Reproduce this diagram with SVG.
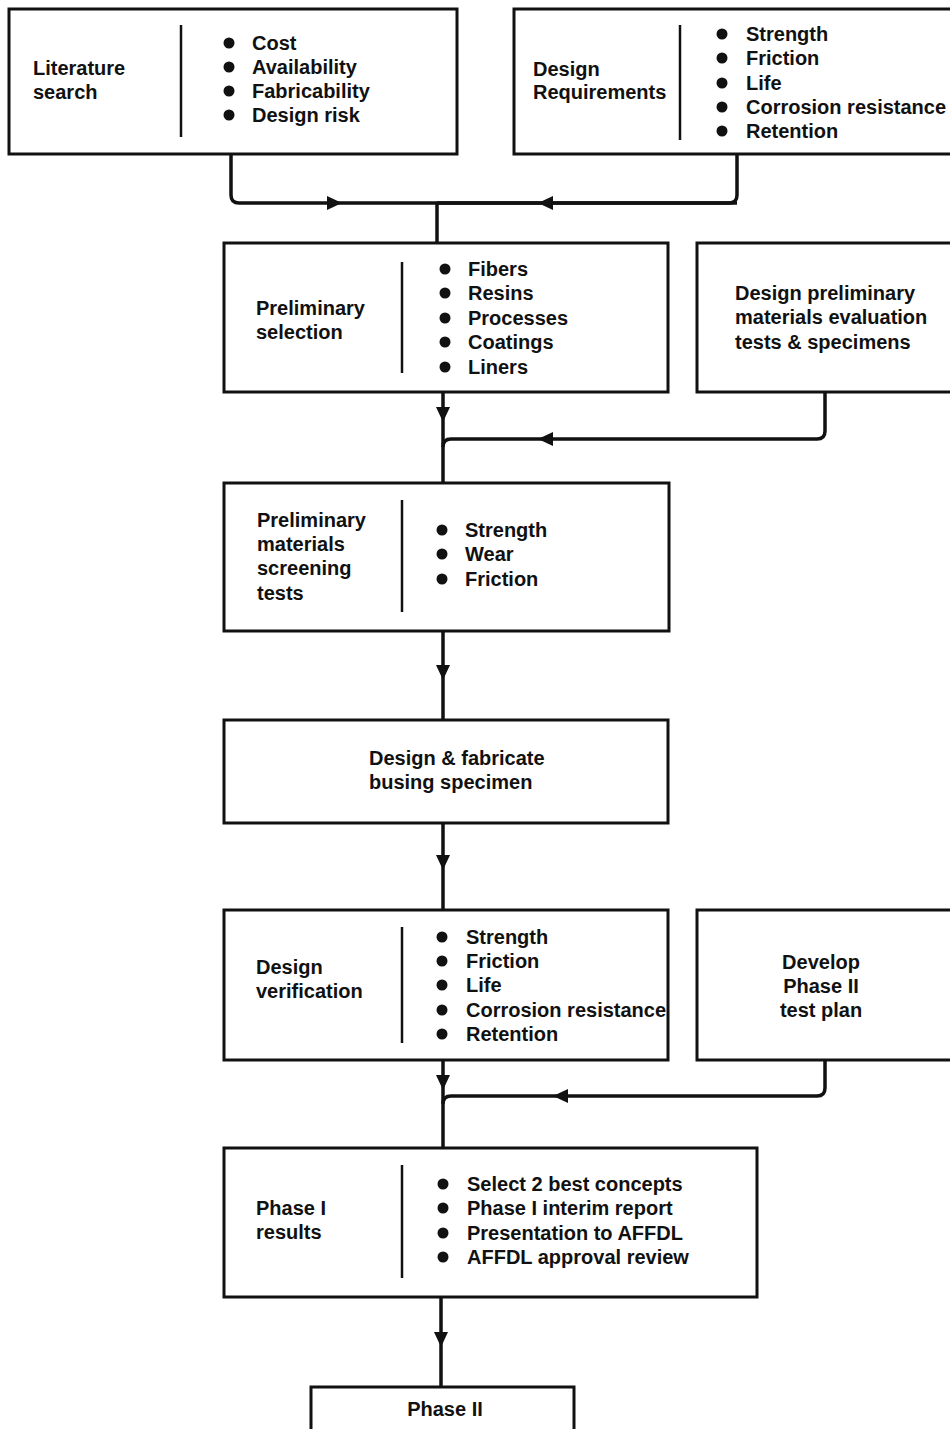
<svg xmlns="http://www.w3.org/2000/svg" width="950" height="1429" viewBox="0 0 950 1429">
<style>
.box{fill:none;stroke:#111;stroke-width:3}
.div{stroke:#111;stroke-width:2.5}
.ln{fill:none;stroke:#111;stroke-width:3.5;stroke-linejoin:round}
text{font-family:"Liberation Sans",Arial,sans-serif;font-weight:bold;font-size:20px;fill:#111}
</style>
<defs>
<path id="ah" d="M-8,-7 L7,0 L-8,7 Z" fill="#111"/>
<circle id="dot" r="5.5" fill="#111"/>
</defs>
<rect width="950" height="1429" fill="#fff"/>

<g id="connectors">
<path class="ln" d="M231,154 V195 Q231,203 239,203 H737"/>
<path class="ln" d="M737,154 V195 Q737,203 729,203 H437"/>
<path class="ln" d="M437,203 V243"/>
<use href="#ah" transform="translate(335,203)"/>
<use href="#ah" transform="translate(545,203) rotate(180)"/>

<path class="ln" d="M443,392 V483"/>
<path class="ln" d="M825,392 V431 Q825,439 817,439 H451 Q443,439 443,447"/>
<use href="#ah" transform="translate(443,415) rotate(90)"/>
<use href="#ah" transform="translate(545,439) rotate(180)"/>

<path class="ln" d="M443,631 V720"/>
<use href="#ah" transform="translate(443,673) rotate(90)"/>

<path class="ln" d="M443,823 V910"/>
<use href="#ah" transform="translate(443,863) rotate(90)"/>

<path class="ln" d="M443,1060 V1148"/>
<path class="ln" d="M825,1060 V1088 Q825,1096 817,1096 H451 Q443,1096 443,1104"/>
<use href="#ah" transform="translate(443,1083) rotate(90)"/>
<use href="#ah" transform="translate(560,1096) rotate(180)"/>

<path class="ln" d="M441,1297 V1387"/>
<use href="#ah" transform="translate(441,1340) rotate(90)"/>
</g>

<g id="literature-search">
<rect class="box" x="9" y="9" width="448" height="145"/>
<line class="div" x1="181" y1="25" x2="181" y2="137"/>
<text x="33" y="75">Literature</text>
<text x="33" y="99">search</text>
<use href="#dot" x="229" y="43"/><text x="252" y="50">Cost</text>
<use href="#dot" x="229" y="67"/><text x="252" y="74">Availability</text>
<use href="#dot" x="229" y="91"/><text x="252" y="98">Fabricability</text>
<use href="#dot" x="229" y="115"/><text x="252" y="122">Design risk</text>
</g>

<g id="design-requirements">
<rect class="box" x="514" y="9" width="450" height="145"/>
<line class="div" x1="680" y1="25" x2="680" y2="140"/>
<text x="533" y="76">Design</text>
<text x="533" y="99">Requirements</text>
<use href="#dot" x="722" y="34"/><text x="746" y="41">Strength</text>
<use href="#dot" x="722" y="58"/><text x="746" y="65">Friction</text>
<use href="#dot" x="722" y="83"/><text x="746" y="90">Life</text>
<use href="#dot" x="722" y="107"/><text x="746" y="114">Corrosion resistance</text>
<use href="#dot" x="722" y="131"/><text x="746" y="138">Retention</text>
</g>

<g id="preliminary-selection">
<rect class="box" x="224" y="243" width="444" height="149"/>
<line class="div" x1="402" y1="262" x2="402" y2="373"/>
<text x="256" y="315">Preliminary</text>
<text x="256" y="339">selection</text>
<use href="#dot" x="445" y="269"/><text x="468" y="276">Fibers</text>
<use href="#dot" x="445" y="293"/><text x="468" y="300">Resins</text>
<use href="#dot" x="445" y="318"/><text x="468" y="325">Processes</text>
<use href="#dot" x="445" y="342"/><text x="468" y="349">Coatings</text>
<use href="#dot" x="445" y="367"/><text x="468" y="374">Liners</text>
</g>

<g id="design-preliminary-tests">
<rect class="box" x="697" y="243" width="267" height="149"/>
<text x="735" y="300">Design preliminary</text>
<text x="735" y="324">materials evaluation</text>
<text x="735" y="349">tests &amp; specimens</text>
</g>

<g id="screening-tests">
<rect class="box" x="224" y="483" width="445" height="148"/>
<line class="div" x1="402" y1="500" x2="402" y2="612"/>
<text x="257" y="527">Preliminary</text>
<text x="257" y="551">materials</text>
<text x="257" y="575">screening</text>
<text x="257" y="600">tests</text>
<use href="#dot" x="442" y="530"/><text x="465" y="537">Strength</text>
<use href="#dot" x="442" y="554"/><text x="465" y="561">Wear</text>
<use href="#dot" x="442" y="579"/><text x="465" y="586">Friction</text>
</g>

<g id="design-fabricate">
<rect class="box" x="224" y="720" width="444" height="103"/>
<text x="369" y="765">Design &amp; fabricate</text>
<text x="369" y="789">busing specimen</text>
</g>

<g id="design-verification">
<rect class="box" x="224" y="910" width="444" height="150"/>
<line class="div" x1="402" y1="927" x2="402" y2="1043"/>
<text x="256" y="974">Design</text>
<text x="256" y="998">verification</text>
<use href="#dot" x="442" y="937"/><text x="466" y="944">Strength</text>
<use href="#dot" x="442" y="961"/><text x="466" y="968">Friction</text>
<use href="#dot" x="442" y="985"/><text x="466" y="992">Life</text>
<use href="#dot" x="442" y="1010"/><text x="466" y="1017">Corrosion resistance</text>
<use href="#dot" x="442" y="1034"/><text x="466" y="1041">Retention</text>
</g>

<g id="phase2-test-plan">
<rect class="box" x="697" y="910" width="267" height="150"/>
<text x="821" y="969" text-anchor="middle">Develop</text>
<text x="821" y="993" text-anchor="middle">Phase II</text>
<text x="821" y="1017" text-anchor="middle">test plan</text>
</g>

<g id="phase1-results">
<rect class="box" x="224" y="1148" width="533" height="149"/>
<line class="div" x1="402" y1="1165" x2="402" y2="1278"/>
<text x="256" y="1215">Phase I</text>
<text x="256" y="1239">results</text>
<use href="#dot" x="443" y="1184"/><text x="467" y="1191">Select 2 best concepts</text>
<use href="#dot" x="443" y="1208"/><text x="467" y="1215">Phase I interim report</text>
<use href="#dot" x="443" y="1233"/><text x="467" y="1240">Presentation to AFFDL</text>
<use href="#dot" x="443" y="1257"/><text x="467" y="1264">AFFDL approval review</text>
</g>

<g id="phase2">
<rect class="box" x="311" y="1387" width="263" height="60"/>
<text x="445" y="1416" text-anchor="middle">Phase II</text>
</g>
</svg>
